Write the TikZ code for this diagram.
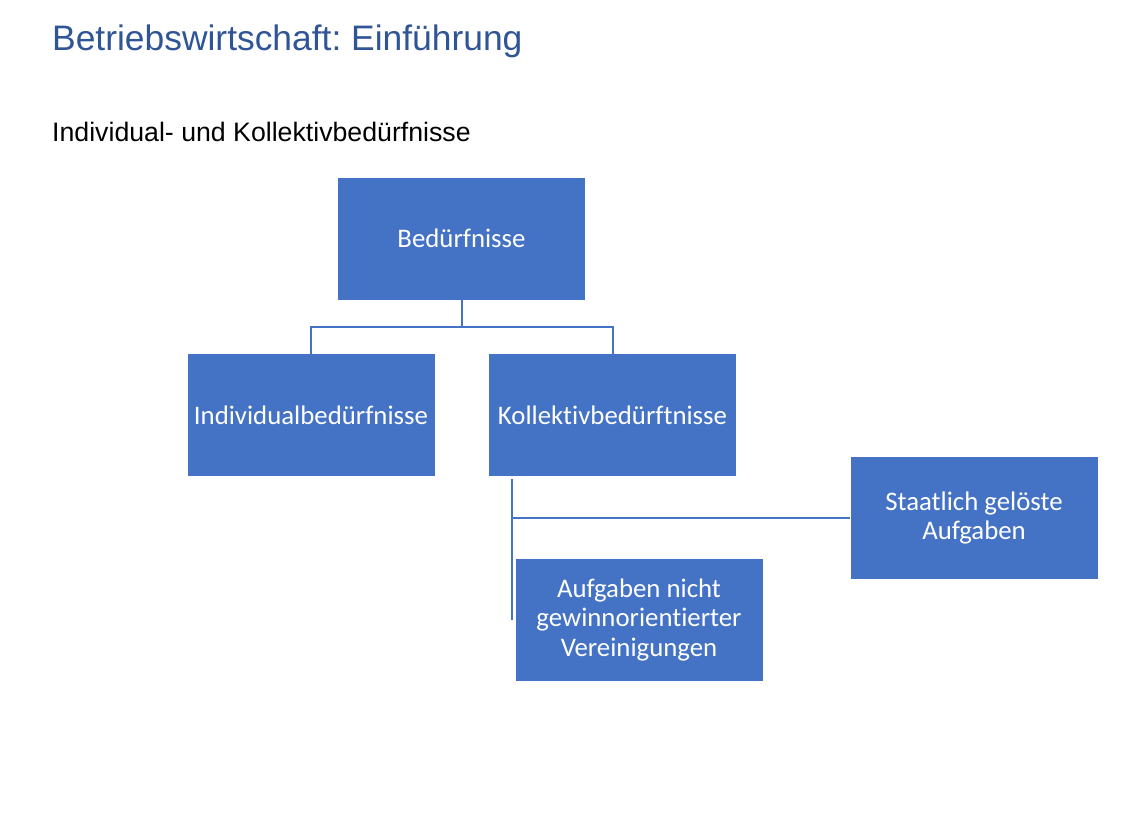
\documentclass[tikz,border=0pt]{standalone}
\usepackage{fontspec}
\setmainfont{Liberation Sans}
\newfontfamily\boxfont[Ligatures=NoCommon]{Carlito}
\definecolor{boxblue}{RGB}{68,114,196}
\definecolor{titleblue}{RGB}{47,85,151}
\begin{document}
\frenchspacing
\begin{tikzpicture}[x=1pt,y=-1pt,
  orgbox/.style={draw=none,fill=boxblue,minimum width=247pt,minimum height=122pt,inner sep=0pt,
    text=white,align=center,font=\boxfont\fontsize{26.8}{29.5}\selectfont},
  link/.style={draw=boxblue,line width=2pt}]
\useasboundingbox (0,0) rectangle (1143,832);
\node[anchor=base west,text=titleblue,font=\fontsize{35.4}{40}\selectfont,inner sep=0pt] (title) at (52,50.5) {Betriebswirtschaft: Einführung};
\node[anchor=base west,text=black,font=\fontsize{26.7}{30}\selectfont,inner sep=0pt] (sub) at (52,142) {Individual- und Kollektivbedürfnisse};
\node[orgbox] (bed) at (461.5,238.5) {Bedürfnisse};
\node[orgbox] (ind) at (311,415) {Individualbedürfnisse};
\node[orgbox] (kol) at (612.5,415) {Kollektivbedürftnisse};
\node[orgbox] (sta) at (974,518) {Staatlich gelöste\\Aufgaben};
\node[orgbox] (auf) at (639,619.5) {Aufgaben nicht\\gewinnorientierter\\Vereinigungen};
\coordinate (kb) at (512,479);
\coordinate (ke) at (512,620);
\draw[link] (bed.south) -- ++(0,27) -| (ind.north);
\draw[link] (bed.south) -- ++(0,27) -| (kol.north);
\draw[link] (kb) -- (ke);
\draw[link] (kb |- sta.west) -- (sta.west);
\end{tikzpicture}
\end{document}
